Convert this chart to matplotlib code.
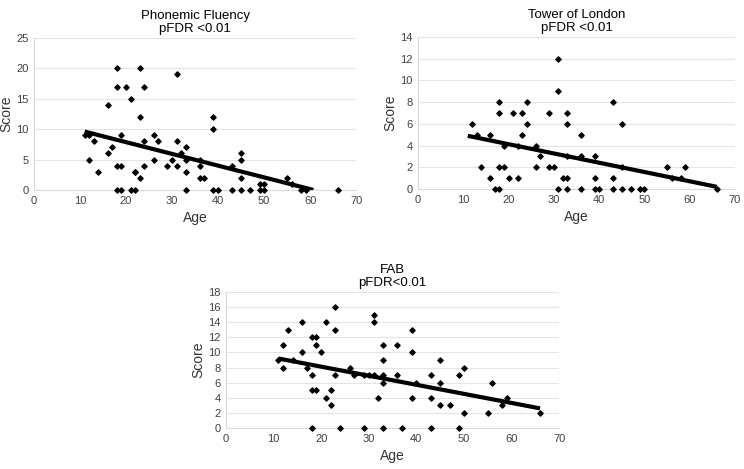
import numpy as np
import matplotlib
matplotlib.use('Agg')
import matplotlib.pyplot as plt

plt.rcParams['font.family'] = ['Liberation Sans', 'DejaVu Sans']

# Phonemic Fluency 데이터
pf_age = [11, 12, 12, 13, 14, 16, 16, 17, 18, 18, 18, 18, 19, 19, 19, 20, 21, 21,
          22, 22, 22, 23, 23, 23, 24, 24, 24, 26, 26, 27, 29, 30, 31, 31, 31, 32,
          33, 33, 33, 33, 36, 36, 36, 37, 39, 39, 39, 40, 43, 43, 45, 45, 45, 45,
          47, 49, 49, 50, 50, 55, 56, 58, 59, 66]
pf_score = [9, 9, 5, 8, 3, 14, 6, 7, 20, 17, 4, 0, 0, 9, 4, 17, 15, 0,
            0, 3, 3, 20, 12, 2, 17, 8, 4, 9, 5, 8, 4, 5, 19, 8, 4, 6,
            7, 5, 3, 0, 5, 4, 2, 2, 12, 10, 0, 0, 4, 0, 6, 5, 2, 0,
            0, 1, 0, 1, 0, 2, 1, 0, 0, 0]
pf_trend_x = [11, 60.7]
pf_trend_y = [9.6, 0]

# Tower of London 데이터
tol_age = [12, 13, 14, 16, 16, 17, 18, 18, 18, 18, 19, 19, 20, 21, 22, 22, 23, 23,
           24, 24, 26, 26, 27, 29, 29, 30, 31, 31, 31, 32, 33, 33, 33, 33, 33, 36,
           36, 36, 39, 39, 39, 40, 43, 43, 43, 45, 45, 45, 47, 49, 50, 55, 56, 58,
           59, 66]
tol_score = [6, 5, 2, 5, 1, 0, 0, 8, 7, 2, 4, 2, 1, 7, 1, 4, 7, 5,
             8, 6, 4, 2, 3, 7, 2, 2, 12, 9, 0, 1, 7, 6, 3, 1, 0, 5,
             3, 0, 3, 1, 0, 0, 8, 1, 0, 6, 2, 0, 0, 0, 0, 2, 1, 1,
             2, 0]
tol_trend_x = [11, 66]
tol_trend_y = [4.9, 0.2]

# FAB 데이터
fab_age = [11, 12, 12, 13, 14, 16, 16, 17, 18, 18, 18, 18, 19, 19, 19, 20, 21, 21,
           22, 22, 23, 23, 23, 24, 26, 27, 29, 29, 30, 31, 31, 31, 32, 33, 33, 33,
           33, 33, 36, 36, 37, 39, 39, 39, 40, 43, 43, 43, 45, 45, 45, 47, 49, 49,
           50, 50, 55, 56, 58, 59, 66]
fab_score = [9, 11, 8, 13, 9, 14, 10, 8, 12, 7, 5, 0, 12, 11, 5, 10, 14, 4,
             5, 3, 16, 13, 7, 0, 8, 7, 7, 0, 7, 15, 14, 7, 4, 11, 9, 7,
             6, 0, 11, 7, 0, 13, 10, 4, 6, 7, 4, 0, 9, 6, 3, 3, 7, 0,
             8, 2, 2, 6, 3, 4, 2]
fab_trend_x = [11, 66]
fab_trend_y = [9.2, 2.6]

fig = plt.figure(figsize=(7.44, 4.69), dpi=100)


def draw_panel(rect, age, score, tx, ty, ymax, ystep, title):
    ax = fig.add_axes(rect)
    ax.scatter(age, score, marker='D', s=7, c='black', zorder=3, clip_on=False)
    ax.plot(tx, ty, color='black', linewidth=3, solid_capstyle='butt', zorder=4)
    ax.set_xlim(0, 70)
    ax.set_ylim(0, ymax)
    ax.set_xticks(range(0, 71, 10))
    ax.set_yticks(range(0, ymax + 1, ystep))
    ax.grid(axis='y', color='#e4e4e4', linewidth=0.8)
    ax.set_axisbelow(True)
    for s in ['top', 'right']:
        ax.spines[s].set_visible(False)
    for s in ['left', 'bottom']:
        ax.spines[s].set_color('#d9d9d9')
        ax.spines[s].set_linewidth(0.8)
    ax.tick_params(length=0, labelsize=8, colors='#404040', pad=4)
    ax.set_xlabel('Age', fontsize=10, color='#333333', labelpad=4)
    ax.set_ylabel('Score', fontsize=10, color='#333333', labelpad=2)
    ax.set_title(title, fontsize=9.5, color='black', pad=4, linespacing=1.15)
    return ax


draw_panel([0.0457, 0.595, 0.433, 0.324], pf_age, pf_score, pf_trend_x, pf_trend_y,
           25, 5, 'Phonemic Fluency\npFDR <0.01')
draw_panel([0.5618, 0.597, 0.426, 0.324], tol_age, tol_score, tol_trend_x, tol_trend_y,
           14, 2, 'Tower of London\npFDR <0.01')
draw_panel([0.3038, 0.0874, 0.4476, 0.29], fab_age, fab_score, fab_trend_x, fab_trend_y,
           18, 2, 'FAB\npFDR<0.01')

plt.savefig('out.png', dpi=100)
